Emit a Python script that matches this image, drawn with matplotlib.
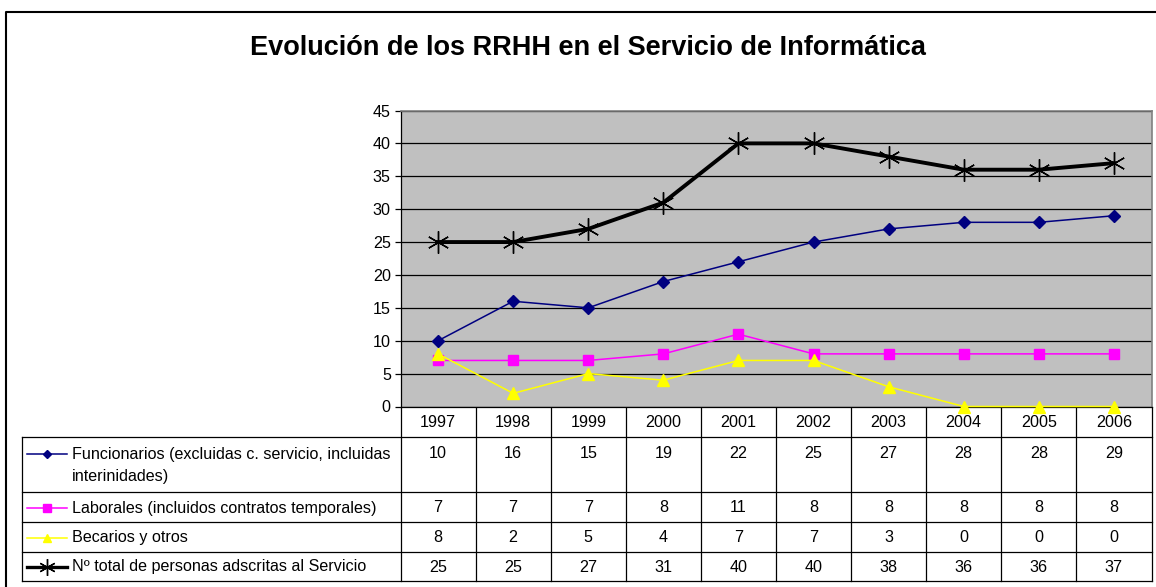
import matplotlib
matplotlib.use("Agg")
import matplotlib.pyplot as plt

plt.rcParams['font.family'] = ['Liberation Sans', 'DejaVu Sans']

years = ['1997', '1998', '1999', '2000', '2001', '2002', '2003', '2004', '2005', '2006']
funcionarios = [10, 16, 15, 19, 22, 25, 27, 28, 28, 29]
laborales = [7, 7, 7, 8, 11, 8, 8, 8, 8, 8]
becarios = [8, 2, 5, 4, 7, 7, 3, 0, 0, 0]
total = [25, 25, 27, 31, 40, 40, 38, 36, 36, 37]

series_labels = [
    ["Funcionarios (excluidas c. servicio, incluidas", "interinidades)"],
    ["Laborales (incluidos contratos temporales)"],
    ["Becarios y otros"],
    ["Nº total de personas adscritas al Servicio"],
]
title = "Evolución de los RRHH en el Servicio de Informática"

W, H = 1156, 587
fig = plt.figure(figsize=(W / 100, H / 100), dpi=100)

# overlay in pixel coords
ov = fig.add_axes([0, 0, 1, 1], zorder=0)
ov.set_xlim(0, W)
ov.set_ylim(H, 0)
ov.axis('off')

FS = 11.6

# plot area geometry (pixels)
PL, PR, PT, PB = 400.5, 1151.5, 110.5, 406.5
ax = fig.add_axes([PL / W, (H - PB) / H, (PR - PL) / W, (PB - PT) / H], zorder=2)
ax.set_facecolor('#C0C0C0')

x = list(range(len(years)))
styles = [
    dict(data=funcionarios, color='#000080', marker='D', ms=6, lw=1.1, mew=1.0),
    dict(data=laborales, color='#FF00FF', marker='s', ms=7, lw=1.1, mew=1.0),
    dict(data=becarios, color='#FFFF00', marker='^', ms=8.5, lw=1.1, mew=1.0),
    dict(data=total, color='#000000', marker=(6, 2, 0), ms=16, lw=2.8, mew=1.0),
]
for st in styles:
    ax.plot(x, st['data'], color=st['color'], marker=st['marker'], markersize=st['ms'],
            linewidth=st['lw'], markeredgecolor=st['color'], markerfacecolor=st['color'],
            markeredgewidth=st['mew'], clip_on=False, zorder=3)

ax.set_xlim(-0.5, len(years) - 0.5)
ax.set_ylim(0, 45)
ax.set_yticks(range(0, 46, 5))
ax.set_xticks([])
ax.yaxis.grid(True, color='black', linewidth=0.9)
ax.set_axisbelow(True)
ax.tick_params(axis='y', length=4, width=0.9, pad=3, labelsize=FS, colors='black')
for side in ['top', 'right']:
    ax.spines[side].set_color('#808080')
    ax.spines[side].set_linewidth(1.2)
ax.spines['left'].set_color('black')
ax.spines['bottom'].set_color('black')
ax.spines['left'].set_linewidth(0.9)
ax.spines['bottom'].set_linewidth(0.9)

# title
ov.text(588, 48, title, ha='center', va='center', fontsize=19.5, fontweight='bold')

# outer frame (cropped on the right/bottom)
ov.plot([6, 6, W], [H, 11.5, 11.5], color='black', lw=1.5)

# table
ncol = len(years)
cw = (PR - PL) / ncol
rows_y = [PB, 437, 492, 522, 551.5, 580.5]
LX = 22
lc = 'black'
lw = 0.9
for k in range(ncol + 1):
    xx = PL + k * cw
    ov.plot([xx, xx], [PB, rows_y[-1]], color=lc, lw=lw)
for yv in rows_y[1:]:
    ov.plot([LX, PR], [yv, yv], color=lc, lw=lw)
ov.plot([LX, LX], [rows_y[1], rows_y[-1]], color=lc, lw=lw)

for k, yr in enumerate(years):
    ov.text(PL + (k + 0.5) * cw, (rows_y[0] + rows_y[1]) / 2 + 1, yr,
            ha='center', va='center', fontsize=FS)

table_data = [funcionarios, laborales, becarios, total]
for r, (st, lab) in enumerate(zip(styles, series_labels)):
    top = rows_y[r + 1]
    bot = rows_y[r + 2]
    yc = top + 17 if r == 0 else (top + bot) / 2 + 1
    ov.plot([27, 67], [yc, yc], color=st['color'], lw=min(st['lw'], 2.4))
    ov.plot([47], [yc], marker=st['marker'], color=st['color'],
            markersize=st['ms'] * 0.75, markeredgecolor=st['color'],
            markeredgewidth=st['mew'])
    for li, line in enumerate(lab):
        ov.text(72, yc + li * 22, line, ha='left', va='center', fontsize=FS)
    for k, v in enumerate(table_data[r]):
        ov.text(PL + (k + 0.5) * cw, yc, str(v), ha='center', va='center', fontsize=FS)

fig.savefig('out.png', dpi=100)
